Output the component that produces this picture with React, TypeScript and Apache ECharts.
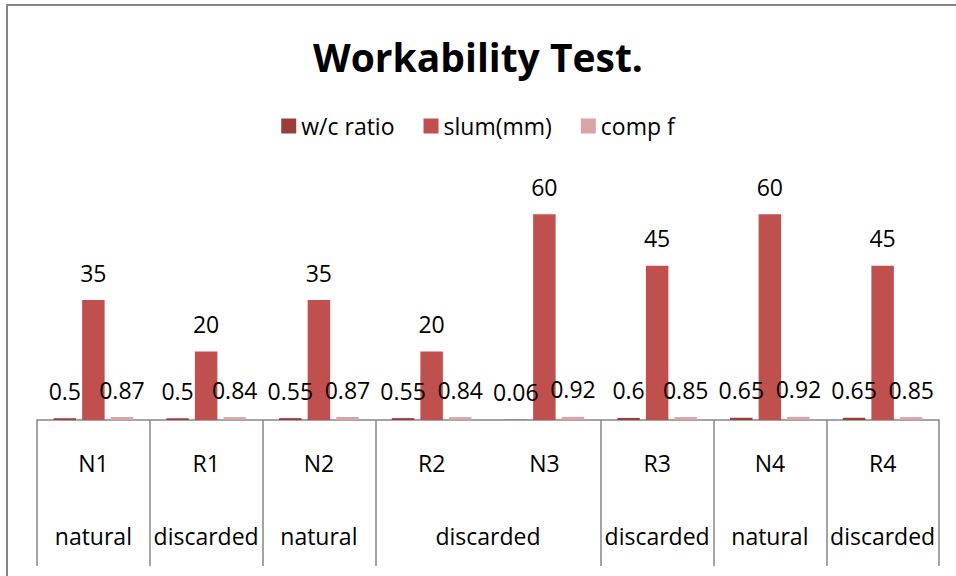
import React, { useEffect, useRef } from "react";
import * as echarts from "echarts";

const categories = ["N1", "R1", "N2", "R2", "N3", "R3", "N4", "R4"];
const groupLabels = ["natural", "discarded", "natural", "discarded", "discarded", "natural", "discarded"];
const groupSpans = [1, 1, 1, 2, 1, 1, 1];
const wcRatio = [0.5, 0.5, 0.55, 0.55, 0.06, 0.6, 0.65, 0.65];
const slump = [35, 20, 35, 20, 60, 45, 60, 45];
const compF = [0.87, 0.84, 0.87, 0.84, 0.92, 0.85, 0.92, 0.85];
const seriesNames = ["w/c ratio", "slum(mm)", "comp f"];
const colors = ["#9B3D3B", "#C0504D", "#D9A5A4"];

const FONT = "Open Sans";

export default function App() {
  const ref = useRef<HTMLDivElement>(null);
  useEffect(() => {
    if (!ref.current) return;
    const chart = echarts.init(ref.current, null, { renderer: "svg" });

    const centers: { pos: number; label: string }[] = [];
    let acc = 0;
    groupSpans.forEach((s, i) => {
      centers.push({ pos: acc + s / 2, label: groupLabels[i] });
      acc += s;
    });

    const labelStyle = {
      show: true,
      position: "top" as const,
      distance: 16,
      color: "#000",
      fontFamily: FONT,
      fontSize: 23,
      lineHeight: 23,
    };

    const datasets = [wcRatio, slump, compF];

    chart.setOption({
      animation: false,
      backgroundColor: "#fff",
      title: {
        text: "Workability Test.",
        left: "center",
        top: 27,
        textStyle: {
          fontFamily: FONT,
          fontSize: 39,
          fontWeight: "bold",
          color: "#000",
          lineHeight: 48,
        },
      },
      legend: {
        top: 113,
        left: "center",
        padding: 0,
        itemWidth: 15,
        itemHeight: 15,
        itemGap: 29,
        icon: "rect",
        data: seriesNames,
        textStyle: { fontFamily: FONT, fontSize: 23, color: "#000", lineHeight: 26 },
      },
      grid: { left: 37, right: 17, top: 180, bottom: 156, containLabel: false },
      xAxis: [
        {
          type: "category",
          data: categories,
          position: "bottom",
          axisLine: { show: true, lineStyle: { color: "#868686", width: 1.5 } },
          axisTick: {
            show: true,
            length: 146,
            interval: (index: number) => index !== 4,
            lineStyle: { color: "#868686", width: 1.5 },
          },
          axisLabel: {
            interval: 0,
            margin: 31,
            color: "#000",
            fontFamily: FONT,
            fontSize: 23,
            lineHeight: 23,
          },
        },
        {
          type: "value",
          position: "bottom",
          min: 0,
          max: categories.length,
          interval: 0.5,
          axisLine: { show: false },
          axisTick: { show: false },
          splitLine: { show: false },
          axisLabel: {
            margin: 104,
            color: "#000",
            fontFamily: FONT,
            fontSize: 23,
            lineHeight: 23,
            showMinLabel: true,
            showMaxLabel: true,
            formatter: (v: number) => {
              const c = centers.find((g) => Math.abs(g.pos - v) < 1e-6);
              return c ? c.label : "";
            },
          },
        },
      ],
      yAxis: {
        type: "value",
        min: 0,
        max: 70,
        show: false,
        splitLine: { show: false },
      },
      series: seriesNames.map((name, i) => ({
        name,
        type: "bar",
        xAxisIndex: 0,
        data: datasets[i],
        barWidth: 22.5,
        barGap: "27%",
        itemStyle: { color: colors[i] },
        label: labelStyle,
      })),
      graphic: [
        {
          type: "rect",
          shape: { x: 7, y: 5, width: 960, height: 600 },
          style: { fill: "none", stroke: "#868686", lineWidth: 2 },
          silent: true,
        },
      ],
    });
    return () => chart.dispose();
  }, []);
  return (
    <div
      ref={ref}
      style={{ position: "absolute", left: 0, top: 0, width: 956, height: 576 }}
    />
  );
}
